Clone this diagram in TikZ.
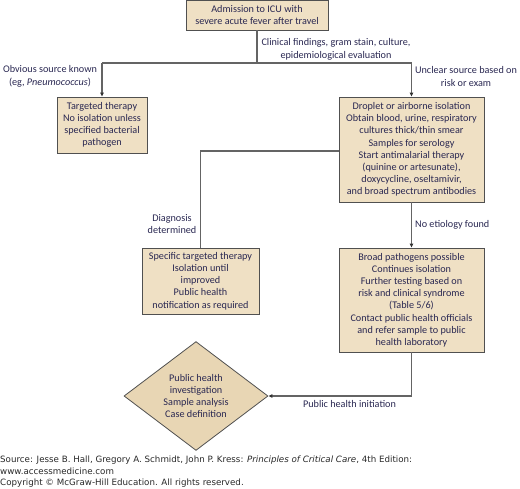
\documentclass[tikz,border=0pt]{standalone}
\usepackage{fontspec}
\setmainfont{Carlito}
\newfontfamily\footfont{DejaVu Sans}
\usetikzlibrary{shapes.geometric,arrows.meta}
\definecolor{boxfill}{RGB}{239,224,196}
\definecolor{dfill}{RGB}{232,214,180}
\definecolor{boxline}{RGB}{80,80,80}
\definecolor{linec}{RGB}{100,100,100}
\definecolor{txtc}{RGB}{42,40,82}
\definecolor{footc}{RGB}{40,40,40}
\tikzset{
  boxn/.style={draw=boxline, fill=boxfill, line width=0.8pt, inner sep=0pt, align=center, text=txtc, font=\fontsize{10.2}{12.2}\selectfont},
  dnode/.style={diamond, draw=boxline, fill=dfill, line width=0.8pt, inner sep=0pt, align=center, text=txtc, font=\fontsize{10.2}{12.2}\selectfont},
  lbl/.style={align=center, text=txtc, font=\fontsize{10.2}{12.6}\selectfont, inner sep=0pt},
  conn/.style={draw=linec, line width=1.2pt},
  arr/.style={conn, -{Triangle[length=4pt,width=3.5pt,color=black!80]}},
  foot/.style={anchor=west, inner sep=0pt, text=footc, font=\footfont\fontsize{8.7}{10}\selectfont}
}
\begin{document}
\begin{tikzpicture}[x=1pt,y=-1pt]
\useasboundingbox (0,0) rectangle (520,488);
\node[boxn, minimum width=142pt, minimum height=30pt] (top) at (257,15) {Admission to ICU with\\severe acute fever after travel};
\node[boxn, minimum width=90pt, minimum height=56pt] (left1) at (102,125) {Targeted therapy\\No isolation unless\\specified bacterial\\pathogen};
\node[boxn, minimum width=145pt, minimum height=105pt] (right1) at (411.5,149.5) {Droplet or airborne isolation\\Obtain blood, urine, respiratory\\cultures thick/thin smear\\Samples for serology\\Start antimalarial therapy\\(quinine or artesunate),\\doxycycline, oseltamivir,\\and broad spectrum antibodies};
\node[boxn, minimum width=117pt, minimum height=66pt] (midleft) at (200.5,281) {Specific targeted therapy\\Isolation until\\improved\\Public health\\notification as required};
\node[boxn, minimum width=145pt, minimum height=104pt] (midright) at (411.5,300) {Broad pathogens possible\\Continues isolation\\Further testing based on\\risk and clinical syndrome\\(Table 5/6)\\Contact public health officials\\and refer sample to public\\health laboratory};
\node[dnode, minimum width=144pt, minimum height=103pt] (dia) at (196,396) {Public health\\investigation\\Sample analysis\\Case definition};

\coordinate (jl) at (102,63);
\coordinate (jr) at (411.5,63);
\coordinate (dg) at (339,151);
\draw[conn] (top.south) -- (top.south |- jl);
\draw[conn] (jl) -- (jr);
\draw[arr] (jl) -- (left1.north);
\draw[arr] (jr) -- (right1.north);
\draw[conn] (dg) -| (midleft.north);
\draw[arr] (right1.south) -- (midright.north);
\draw[arr] (midright.south) |- (dia.east);

\node[lbl] (l1) at (336,49.5) {Clinical findings, gram stain, culture,\\epidemiological evaluation};
\node[lbl] (l2) at (50,76.5) {Obvious source known\\(eg, \textit{Pneumococcus})};
\node[lbl] (l3) at (466,76.5) {Unclear source based on\\risk or exam};
\node[lbl] (l4) at (172,224) {Diagnosis\\determined};
\node[lbl, anchor=west] (l5) at (415,225) {No etiology found};
\node[lbl] (l6) at (349.5,404) {Public health initiation};

\node[foot] (f1) at (0,460) {Source: Jesse B. Hall, Gregory A. Schmidt, John P. Kress: \textit{Principles of Critical Care}, 4th Edition:};
\node[foot] (f2) at (0,471.5) {www.accessmedicine.com};
\node[foot] (f3) at (0,483) {Copyright \textcopyright{} McGraw-Hill Education. All rights reserved.};
\end{tikzpicture}
\end{document}
